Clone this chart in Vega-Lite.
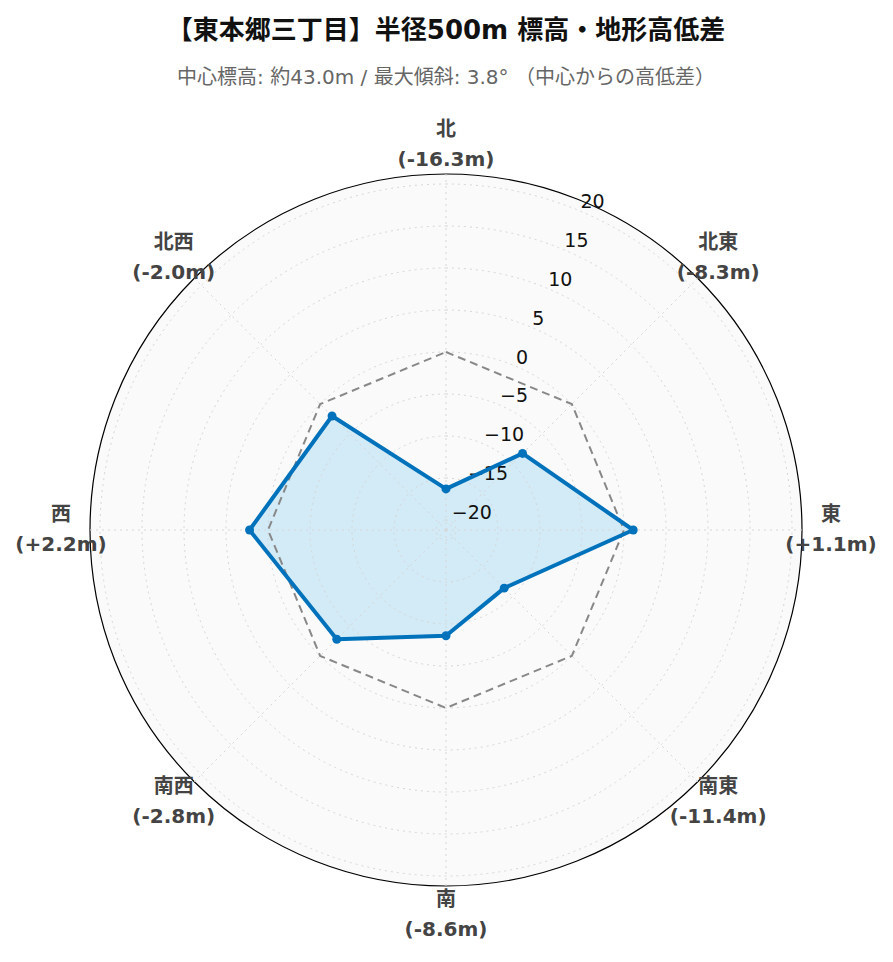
{
  "$schema": "https://vega.github.io/schema/vega-lite/v6.json",
  "width": 712,
  "height": 712,
  "autosize": {"type": "none"},
  "padding": {"left": 90, "top": 174, "right": 91, "bottom": 76},
  "background": "white",
  "config": {"view": {"stroke": null}, "font": "DejaVu Sans, Noto Sans CJK JP"},
  "title": {
    "text": "【東本郷三丁目】半径500m 標高・地形高低差",
    "subtitle": "中心標高: 約43.0m / 最大傾斜: 3.8° （中心からの高低差）",
    "anchor": "middle",
    "frame": "group",
    "font": "DejaVu Sans, Noto Sans CJK JP",
    "fontSize": 26,
    "fontWeight": "bold",
    "color": "#111111",
    "subtitleFont": "DejaVu Sans, Noto Sans CJK JP",
    "subtitleFontSize": 20,
    "subtitleColor": "#666666",
    "subtitlePadding": 24,
    "offset": 32
  },
  "datasets": {
    "dirs": [
      {"dir": "北", "deg": 0, "v": -16.3},
      {"dir": "北東", "deg": 45, "v": -8.3},
      {"dir": "東", "deg": 90, "v": 1.1},
      {"dir": "南東", "deg": 135, "v": -11.4},
      {"dir": "南", "deg": 180, "v": -8.6},
      {"dir": "南西", "deg": 225, "v": -2.8},
      {"dir": "西", "deg": 270, "v": 2.2},
      {"dir": "北西", "deg": 315, "v": -2.0}
    ],
    "rings": [{"v": -20}, {"v": -15}, {"v": -10}, {"v": -5}, {"v": 0}, {"v": 5}, {"v": 10}, {"v": 15}, {"v": 20}],
    "outer": [{"v": 21.19}]
  },
  "layer": [
    {
      "data": {"name": "outer"},
      "mark": {"type": "arc", "theta": 0, "theta2": 6.2832, "fill": "#fafafa", "stroke": "#000000", "strokeWidth": 1.2},
      "encoding": {
        "radius": {"field": "v", "type": "quantitative", "stack": null, "scale": {"type": "linear", "domain": [-21.19, 21.19], "range": [0, 356], "zero": false, "nice": false}},
        "radius2": {"datum": -21.19}
      }
    },
    {
      "data": {"name": "dirs"},
      "transform": [
        {"calculate": "(datum.v + 21.19) * sin(datum.deg * PI / 180)", "as": "px"},
        {"calculate": "(datum.v + 21.19) * cos(datum.deg * PI / 180)", "as": "py"}
      ],
      "mark": {"type": "line", "interpolate": "linear-closed", "fill": "#d2ebf7", "fillOpacity": 1, "stroke": null, "strokeWidth": 0},
      "encoding": {
        "x": {"field": "px", "type": "quantitative", "scale": {"domain": [-42.38, 42.38], "nice": false, "zero": false}, "axis": null},
        "y": {"field": "py", "type": "quantitative", "scale": {"domain": [-42.38, 42.38], "nice": false, "zero": false}, "axis": null},
        "order": {"field": "deg", "type": "quantitative"}
      }
    },
    {
      "data": {"name": "rings"},
      "mark": {"type": "arc", "theta": 0, "theta2": 6.2832, "fill": "transparent", "stroke": "#d6d6d6", "strokeWidth": 1, "strokeDash": [2, 4]},
      "encoding": {
        "radius": {"field": "v", "type": "quantitative", "stack": null, "scale": {"type": "linear", "domain": [-21.19, 21.19], "range": [0, 356], "zero": false, "nice": false}},
        "radius2": {"datum": -21.19}
      }
    },
    {
      "data": {"name": "dirs"},
      "transform": [
        {"calculate": "0", "as": "ox"},
        {"calculate": "42.38 * sin(datum.deg * PI / 180)", "as": "gx"},
        {"calculate": "42.38 * cos(datum.deg * PI / 180)", "as": "gy"}
      ],
      "mark": {"type": "rule", "stroke": "#d6d6d6", "strokeWidth": 1, "strokeDash": [2, 4]},
      "encoding": {
        "x": {"field": "ox", "type": "quantitative", "scale": {"domain": [-42.38, 42.38], "nice": false, "zero": false}, "axis": null},
        "y": {"field": "ox", "type": "quantitative", "scale": {"domain": [-42.38, 42.38], "nice": false, "zero": false}, "axis": null},
        "x2": {"field": "gx"},
        "y2": {"field": "gy"}
      }
    },
    {
      "data": {"name": "rings"},
      "transform": [
        {"calculate": "(datum.v + 21.19) * sin(22.5 * PI / 180)", "as": "tx"},
        {"calculate": "(datum.v + 21.19) * cos(22.5 * PI / 180)", "as": "ty"}
      ],
      "mark": {"type": "text", "align": "left", "baseline": "middle", "dx": 2, "dy": -8, "fontSize": 19, "color": "#111111", "font": "DejaVu Sans"},
      "encoding": {
        "x": {"field": "tx", "type": "quantitative", "scale": {"domain": [-42.38, 42.38], "nice": false, "zero": false}, "axis": null},
        "y": {"field": "ty", "type": "quantitative", "scale": {"domain": [-42.38, 42.38], "nice": false, "zero": false}, "axis": null},
        "text": {"field": "v", "type": "quantitative", "format": "d"}
      }
    },
    {
      "data": {"name": "dirs"},
      "transform": [
        {"calculate": "(0 + 21.19) * sin(datum.deg * PI / 180)", "as": "zx"},
        {"calculate": "(0 + 21.19) * cos(datum.deg * PI / 180)", "as": "zy"}
      ],
      "mark": {"type": "line", "interpolate": "linear-closed", "stroke": "#888888", "strokeWidth": 2, "strokeDash": [8, 5]},
      "encoding": {
        "x": {"field": "zx", "type": "quantitative", "scale": {"domain": [-42.38, 42.38], "nice": false, "zero": false}, "axis": null},
        "y": {"field": "zy", "type": "quantitative", "scale": {"domain": [-42.38, 42.38], "nice": false, "zero": false}, "axis": null},
        "order": {"field": "deg", "type": "quantitative"}
      }
    },
    {
      "data": {"name": "dirs"},
      "transform": [
        {"calculate": "(datum.v + 21.19) * sin(datum.deg * PI / 180)", "as": "px"},
        {"calculate": "(datum.v + 21.19) * cos(datum.deg * PI / 180)", "as": "py"}
      ],
      "mark": {"type": "line", "interpolate": "linear-closed", "stroke": "#0072bb", "strokeWidth": 4, "strokeJoin": "round"},
      "encoding": {
        "x": {"field": "px", "type": "quantitative", "scale": {"domain": [-42.38, 42.38], "nice": false, "zero": false}, "axis": null},
        "y": {"field": "py", "type": "quantitative", "scale": {"domain": [-42.38, 42.38], "nice": false, "zero": false}, "axis": null},
        "order": {"field": "deg", "type": "quantitative"}
      }
    },
    {
      "data": {"name": "dirs"},
      "transform": [
        {"calculate": "(datum.v + 21.19) * sin(datum.deg * PI / 180)", "as": "px"},
        {"calculate": "(datum.v + 21.19) * cos(datum.deg * PI / 180)", "as": "py"}
      ],
      "mark": {"type": "point", "filled": true, "shape": "circle", "size": 80, "color": "#0072bb", "opacity": 1},
      "encoding": {
        "x": {"field": "px", "type": "quantitative", "scale": {"domain": [-42.38, 42.38], "nice": false, "zero": false}, "axis": null},
        "y": {"field": "py", "type": "quantitative", "scale": {"domain": [-42.38, 42.38], "nice": false, "zero": false}, "axis": null}
      }
    },
    {
      "data": {"name": "dirs"},
      "transform": [
        {"calculate": "45.83 * sin(datum.deg * PI / 180)", "as": "lx"},
        {"calculate": "45.83 * cos(datum.deg * PI / 180)", "as": "ly"},
        {"calculate": "datum.dir + '\\n(' + (datum.v < 0 ? '-' : '+') + format(abs(datum.v), '.1f') + 'm)'", "as": "label"}
      ],
      "mark": {"type": "text", "align": "center", "baseline": "middle", "dy": -15, "lineBreak": "\n", "lineHeight": 30, "fontSize": 20, "fontWeight": "bold", "color": "#444444"},
      "encoding": {
        "x": {"field": "lx", "type": "quantitative", "scale": {"domain": [-42.38, 42.38], "nice": false, "zero": false}, "axis": null},
        "y": {"field": "ly", "type": "quantitative", "scale": {"domain": [-42.38, 42.38], "nice": false, "zero": false}, "axis": null},
        "text": {"field": "label", "type": "nominal"}
      }
    }
  ]
}
